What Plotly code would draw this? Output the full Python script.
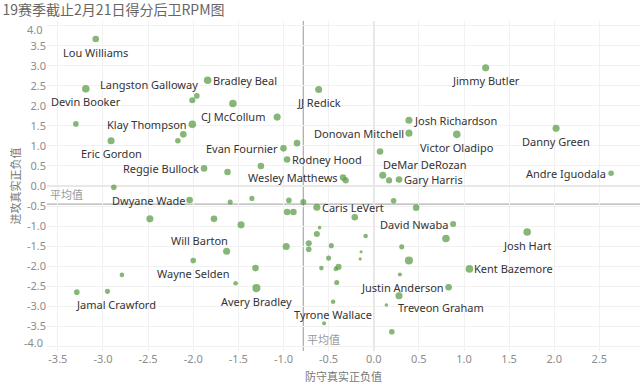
import plotly.graph_objects as go

title = "19赛季截止2月21日得分后卫RPM图"
x_title = "防守真实正负值"
y_title = "进攻真实正负值"
avg_label = "平均值"

# defensive RPM (x), offensive RPM (y), player label, size measure
players = ["Lou Williams", "Devin Booker", "", "Eric Gordon", "Bradley Beal", "", "Langston Galloway", "CJ McCollum",
           "", "Klay Thompson", "", "", "Evan Fournier", "", "Rodney Hood", "Reggie Bullock",
           "", "", "Wesley Matthews", "", "", "Dwyane Wade", "", "", "", "", "Caris LeVert", "", "",
           "", "", "", "Will Barton", "", "", "", "", "", "Wayne Selden", "", "", "", "Jamal Crawford",
           "", "Avery Bradley", "", "", "", "", "", "", "", "", "", "", "", "", "", "Justin Anderson",
           "Treveon Graham", "", "Tyrone Wallace", "", "", "", "", "David Nwaba", "", "Josh Hart",
           "Kent Bazemore", "Jimmy Butler", "JJ Redick", "Josh Richardson", "Donovan Mitchell",
           "Victor Oladipo", "Danny Green", "Andre Iguodala", "", "DeMar DeRozan", "", "Gary Harris"]
drpm = [-3.08, -3.19, -3.30, -2.91, -1.84, -2.01, -1.96, -1.56,
        -1.07, -2.01, -2.11, -2.17, -1.00, -0.85, -0.96, -1.88,
        -1.62, -1.25, -0.34, -0.31, -2.88, -2.04, -1.59, -1.35, -0.94, -0.78, -0.63, -0.96, -0.89,
        -2.48, -1.77, -1.47, -1.63, -0.97, -0.72, -0.72, -0.63, -0.60, -2.00, -1.31, -2.79, -1.53, -3.29,
        -2.95, -1.30, -0.21, -0.09, -0.47, -0.50, -0.14, -0.15, 0.31, 0.39, -0.58, -0.39, -0.42, 0.29, -0.41, 0.83,
        0.28, 0.14, -0.45, -0.55, 0.20, 0.22, 0.47, 0.88, 0.80, 1.70,
        1.06, 1.24, -0.61, 0.39, 0.39,
        0.92, 2.02, 2.63, 0.07, 0.10, 0.17, 0.28]
orpm = [3.67, 2.43, 1.55, 1.13, 2.64, 2.14, 2.25, 2.06,
        1.72, 1.54, 1.29, 1.13, 0.94, 1.07, 0.66, 0.44,
        0.35, 0.50, 0.21, 0.14, -0.03, -0.35, -0.40, -0.31, -0.36, -0.40, -0.53, -0.65, -0.65,
        -0.82, -0.82, -0.97, -1.63, -1.51, -1.43, -1.58, -1.20, -1.04, -1.86, -2.05, -2.22, -2.43, -2.65,
        -2.63, -2.55, -0.78, -1.25, -1.49, -1.80, -1.64, -1.82, -1.52, -1.86, -2.05, -2.02, -2.07, -2.21, -2.41, -2.53,
        -2.74, -2.97, -2.89, -3.43, -3.64, -0.37, -0.54, -0.95, -1.31, -1.15,
        -2.07, 2.95, 2.41, 1.64, 1.32,
        1.29, 1.44, 0.32, 0.86, 0.27, 0.14, 0.16]
weight = [6, 7, 5, 6.5, 7, 5.5, 5, 7,
          6.5, 7, 6, 5, 6, 6, 6, 6,
          6, 6, 6, 5.5, 5, 6, 4.5, 4.5, 5, 5.5, 6.5, 6, 6,
          6.5, 6, 6.5, 6.5, 6.5, 5.5, 5, 5.5, 3, 5, 6, 4, 4, 5,
          4.5, 7.5, 6, 4, 4.5, 4.5, 2.5, 2.5, 4.5, 7.5, 4, 5.5, 4, 3.5, 4.5, 6,
          6.5, 3, 4, 3.5, 5, 5, 6, 5.5, 7, 7,
          7, 6.5, 6.5, 6.5, 6.5,
          7, 6.5, 5, 6, 6.5, 5.5, 6]

# where each label sits relative to its mark
label_side = ["below", "below", "", "below", "right", "", "above_left", "below",
              "", "left", "", "", "left", "", "right", "left",
              "", "", "left", "", "", "left", "", "", "", "", "right", "", "",
              "", "", "", "above_left", "", "", "", "", "", "below", "", "", "", "below_right",
              "", "below", "", "", "", "", "", "", "", "", "", "", "", "", "", "left",
              "below_right", "", "below", "", "", "", "", "left", "", "below",
              "right", "below", "below", "right", "left",
              "below", "below", "left", "", "above_right", "", "right"]

avg_drpm = -0.78
avg_orpm = -0.455

x_ticks = [-3.5, -3.0, -2.5, -2.0, -1.5, -1.0, -0.5, 0.0, 0.5, 1.0, 1.5, 2.0, 2.5]
y_ticks = [4.0, 3.5, 3.0, 2.5, 2.0, 1.5, 1.0, 0.5, 0.0, -0.5, -1.0, -1.5, -2.0, -2.5, -3.0, -3.5, -4.0]

GREEN = "#52993F"
LABEL_FONT = dict(family="Noto Sans, Open Sans, sans-serif", size=11, color="#333333")
TICK_FONT = dict(family="Noto Sans, sans-serif", size=11, color="#8c8c8c")
CJK = "Noto Sans CJK SC, sans-serif"

PLACEMENT = {
    "below": dict(xanchor="center", yanchor="middle", xshift=0, yshift=-13),
    "right": dict(xanchor="left", yanchor="middle", xshift=4, yshift=0),
    "left": dict(xanchor="right", yanchor="middle", xshift=-4, yshift=0),
    "above_left": dict(xanchor="right", yanchor="middle", xshift=2, yshift=11),
    "below_right": dict(xanchor="left", yanchor="middle", xshift=-2, yshift=-12),
    "above_right": dict(xanchor="left", yanchor="middle", xshift=-1, yshift=11),
}

fig = go.Figure()
fig.add_trace(go.Scatter(
    x=drpm, y=orpm, mode="markers",
    marker=dict(size=[w + 0.6 for w in weight], color=GREEN, line=dict(width=0)),
    hoverinfo="skip", showlegend=False, cliponaxis=False,
))

for name, xv, yv, side in zip(players, drpm, orpm, label_side):
    if name:
        fig.add_annotation(x=xv, y=yv, xref="x", yref="y", text=name, showarrow=False,
                           font=LABEL_FONT, borderpad=0, **PLACEMENT[side])

# end tick labels nudged inward, as in the reference
y_lo, y_hi = min(y_ticks), max(y_ticks)
for v, shift in ((y_hi, -4), (y_lo, 4)):
    fig.add_annotation(xref="paper", yref="y", x=0, y=v, text=f"{v:.1f}", showarrow=False,
                       xanchor="right", yanchor="middle", xshift=-2, yshift=shift, font=TICK_FONT)

fig.add_shape(type="line", xref="x", yref="paper", x0=avg_drpm, x1=avg_drpm, y0=0, y1=1,
              line=dict(color="#b0b0b0", width=1.3), layer="below")
fig.add_shape(type="line", xref="paper", yref="y", x0=0, x1=1, y0=avg_orpm, y1=avg_orpm,
              line=dict(color="#b0b0b0", width=1.3), layer="below")
fig.add_annotation(xref="paper", yref="y", x=0.002, y=avg_orpm, text=avg_label, showarrow=False,
                   xanchor="left", yanchor="bottom", font=dict(family=CJK, size=11, color="#999999"))
fig.add_annotation(xref="x", yref="paper", x=avg_drpm, y=0.005, text=avg_label, showarrow=False,
                   xanchor="left", yanchor="bottom", xshift=2, font=dict(family=CJK, size=11, color="#999999"))

fig.update_layout(
    width=640, height=388,
    margin=dict(l=47, r=0, t=21, b=37),
    paper_bgcolor="white", plot_bgcolor="white",
    title=dict(text=title, x=0.004, xanchor="left", yref="container", y=0.973, yanchor="middle",
               font=dict(family=CJK, size=14, color="#666666")),
    xaxis=dict(range=[-3.62, 2.95], tickvals=x_ticks, ticktext=[f"{v:.1f}" for v in x_ticks],
               showgrid=True, gridcolor="#f1f1f1", zeroline=True, zerolinecolor="#e8e8e8",
               showline=False, ticks="", tickfont=TICK_FONT,
               title=dict(text=x_title, font=dict(family=CJK, size=11, color="#777777"), standoff=8)),
    yaxis=dict(range=[-4.12, 4.12], tickvals=y_ticks,
               ticktext=["" if v in (y_lo, y_hi) else f"{v:.1f}" for v in y_ticks],
               showgrid=True, gridcolor="#f1f1f1", zeroline=True, zerolinecolor="#e8e8e8",
               showline=False, ticks="", tickfont=TICK_FONT,
               title=dict(text=y_title, font=dict(family=CJK, size=11, color="#777777"), standoff=4)),
)

fig.write_html("out.html", config={"displayModeBar": False},
               post_script="document.body.style.margin='0';document.body.style.overflow='hidden';")
